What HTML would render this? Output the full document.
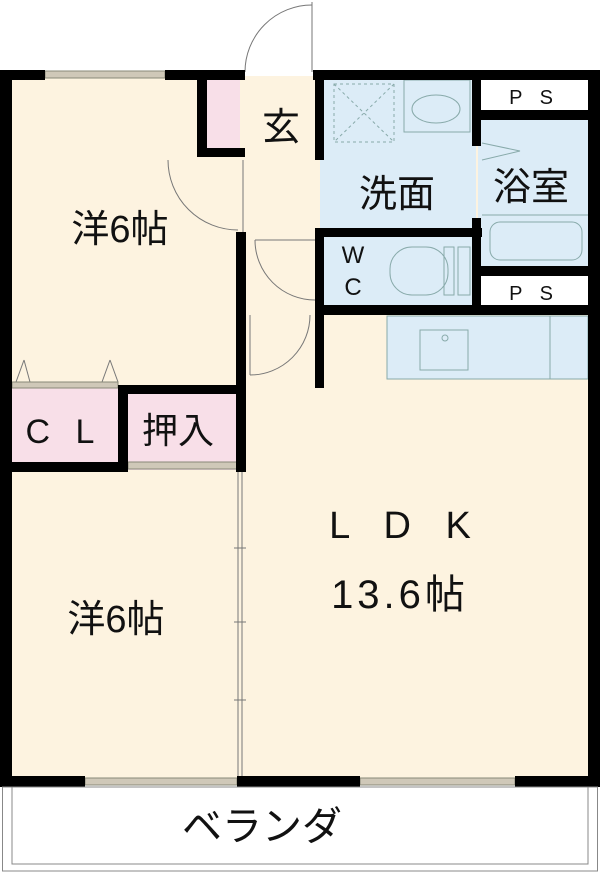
<!DOCTYPE html>
<html><head><meta charset="utf-8"><style>
html,body{margin:0;padding:0;background:#fff}
svg{display:block}
text{font-family:"Liberation Sans","Noto Sans CJK JP",sans-serif;fill:#111}
</style></head><body>
<svg width="600" height="874" viewBox="0 0 600 874" xmlns="http://www.w3.org/2000/svg">
<rect x="8" y="76" width="584" height="704" fill="#fdf3e0"/>
<rect x="320" y="76" width="156" height="234" fill="#dcecf7"/>
<rect x="478" y="114" width="112" height="156" fill="#dcecf7"/>
<rect x="480" y="80" width="108" height="30" fill="#fff"/>
<rect x="480" y="275" width="108" height="30" fill="#fff"/>
<rect x="202" y="78" width="38" height="74" fill="#f8dfe8"/>
<rect x="10" y="388" width="112" height="80" fill="#f8dfe8"/>
<rect x="124" y="390" width="114" height="80" fill="#f8dfe8"/>
<rect x="387" y="316" width="201" height="63" fill="#dcecf7" stroke="#8aa" stroke-width="1"/>
<line x1="550" y1="316" x2="550" y2="379" stroke="#8aa"/>
<rect x="420" y="330" width="48" height="40" fill="none" stroke="#8aa"/>
<circle cx="445" cy="338" r="3" fill="none" stroke="#8aa"/>
<rect x="334" y="84" width="60" height="58" fill="none" stroke="#8aa" stroke-dasharray="3,3"/>
<line x1="334" y1="84" x2="394" y2="142" stroke="#8aa" stroke-dasharray="3,3"/>
<line x1="394" y1="84" x2="334" y2="142" stroke="#8aa" stroke-dasharray="3,3"/>
<rect x="404" y="80" width="66" height="52" fill="none" stroke="#8aa"/>
<ellipse cx="436" cy="109" rx="24" ry="14" fill="none" stroke="#8aa"/>
<rect x="490" y="222" width="92" height="38" rx="10" fill="none" stroke="#8aa"/>
<line x1="482" y1="215" x2="588" y2="215" stroke="#8aa"/>
<rect x="390" y="247" width="58" height="48" rx="22" fill="none" stroke="#8aa"/>
<rect x="444" y="247" width="10" height="48" fill="none" stroke="#8aa"/>
<rect x="458" y="247" width="12" height="48" fill="none" stroke="#8aa"/>
<polyline points="482,143 520,151 482,160" fill="none" stroke="#8aa"/>
<g fill="none" stroke="#777" stroke-width="1">
<line x1="312" y1="2" x2="312" y2="72"/><path d="M245,72 A67,67 0 0 1 312,5"/>
<line x1="243" y1="160" x2="243" y2="232"/><path d="M168,160 A70,70 0 0 0 238,230"/>
<path d="M255,240 A60,60 0 0 0 315,300"/><line x1="255" y1="240" x2="315" y2="240"/>
<path d="M250,375 A60,60 0 0 0 310,315"/>
<line x1="250" y1="315" x2="250" y2="375"/>
<line x1="16" y1="382" x2="24" y2="360"/><line x1="24" y1="360" x2="30" y2="382"/>
<line x1="102" y1="382" x2="110" y2="360"/><line x1="110" y1="360" x2="118" y2="382"/>
<line x1="238" y1="470" x2="238" y2="776"/><line x1="242" y1="470" x2="242" y2="776"/>
<line x1="234" y1="548" x2="246" y2="548"/><line x1="234" y1="622" x2="246" y2="622"/><line x1="234" y1="700" x2="246" y2="700"/>
</g>
<g fill="#cfc8b8" stroke="#887">
<rect x="85" y="778" width="152" height="7"/>
<rect x="360" y="778" width="155" height="7"/>
<rect x="45" y="71" width="120" height="7"/>
<rect x="12" y="382" width="106" height="6"/>
<rect x="128" y="462" width="110" height="7"/>
</g>
<g fill="#000">
<rect x="0" y="70" width="45" height="10"/>
<rect x="165" y="70" width="80" height="10"/>
<rect x="313" y="70" width="287" height="10"/>
<rect x="0" y="70" width="12" height="717"/>
<rect x="588" y="70" width="12" height="717"/>
<rect x="0" y="776" width="85" height="11"/>
<rect x="237" y="776" width="123" height="11"/>
<rect x="515" y="776" width="85" height="11"/>
<rect x="197" y="70" width="10" height="87"/>
<rect x="197" y="148" width="48" height="9"/>
<rect x="315" y="70" width="9" height="90"/>
<rect x="315" y="228" width="9" height="90"/>
<rect x="315" y="305" width="283" height="10"/>
<rect x="315" y="305" width="9" height="83"/>
<rect x="318" y="228" width="164" height="9"/>
<rect x="472" y="70" width="9" height="76"/>
<rect x="472" y="218" width="9" height="92"/>
<rect x="472" y="110" width="126" height="10"/>
<rect x="472" y="266" width="126" height="10"/>
<rect x="236" y="232" width="10" height="240"/>
<rect x="118" y="385" width="128" height="9"/>
<rect x="118" y="385" width="10" height="87"/>
<rect x="0" y="462" width="128" height="10"/>
</g>
<rect x="2.5" y="787" width="595" height="84" fill="none" stroke="#888"/>
<rect x="12" y="787" width="576" height="77" fill="none" stroke="#888"/>
<text x="281" y="140" font-size="38" text-anchor="middle">玄</text>
<text x="397" y="207" font-size="38" text-anchor="middle">洗面</text>
<text x="531" y="200" font-size="38" text-anchor="middle">浴室</text>
<text x="534" y="104" font-size="20" text-anchor="middle" letter-spacing="6">P S</text>
<text x="534" y="300" font-size="20" text-anchor="middle" letter-spacing="6">P S</text>
<text x="353" y="263" font-size="24" text-anchor="middle">W</text>
<text x="353" y="295" font-size="24" text-anchor="middle">C</text>
<text x="120" y="242" font-size="38" text-anchor="middle">洋6帖</text>
<text x="116" y="632" font-size="38" text-anchor="middle">洋6帖</text>
<text x="64" y="443" font-size="34" text-anchor="middle" letter-spacing="8">C L</text>
<text x="178" y="443" font-size="36" text-anchor="middle">押入</text>
<text x="406" y="538" font-size="38" text-anchor="middle" letter-spacing="12">L D K</text>
<text x="400" y="608" font-size="40" text-anchor="middle" letter-spacing="4">13.6帖</text>
<text x="262" y="840" font-size="40" text-anchor="middle">ベランダ</text>
</svg>
</body></html>
